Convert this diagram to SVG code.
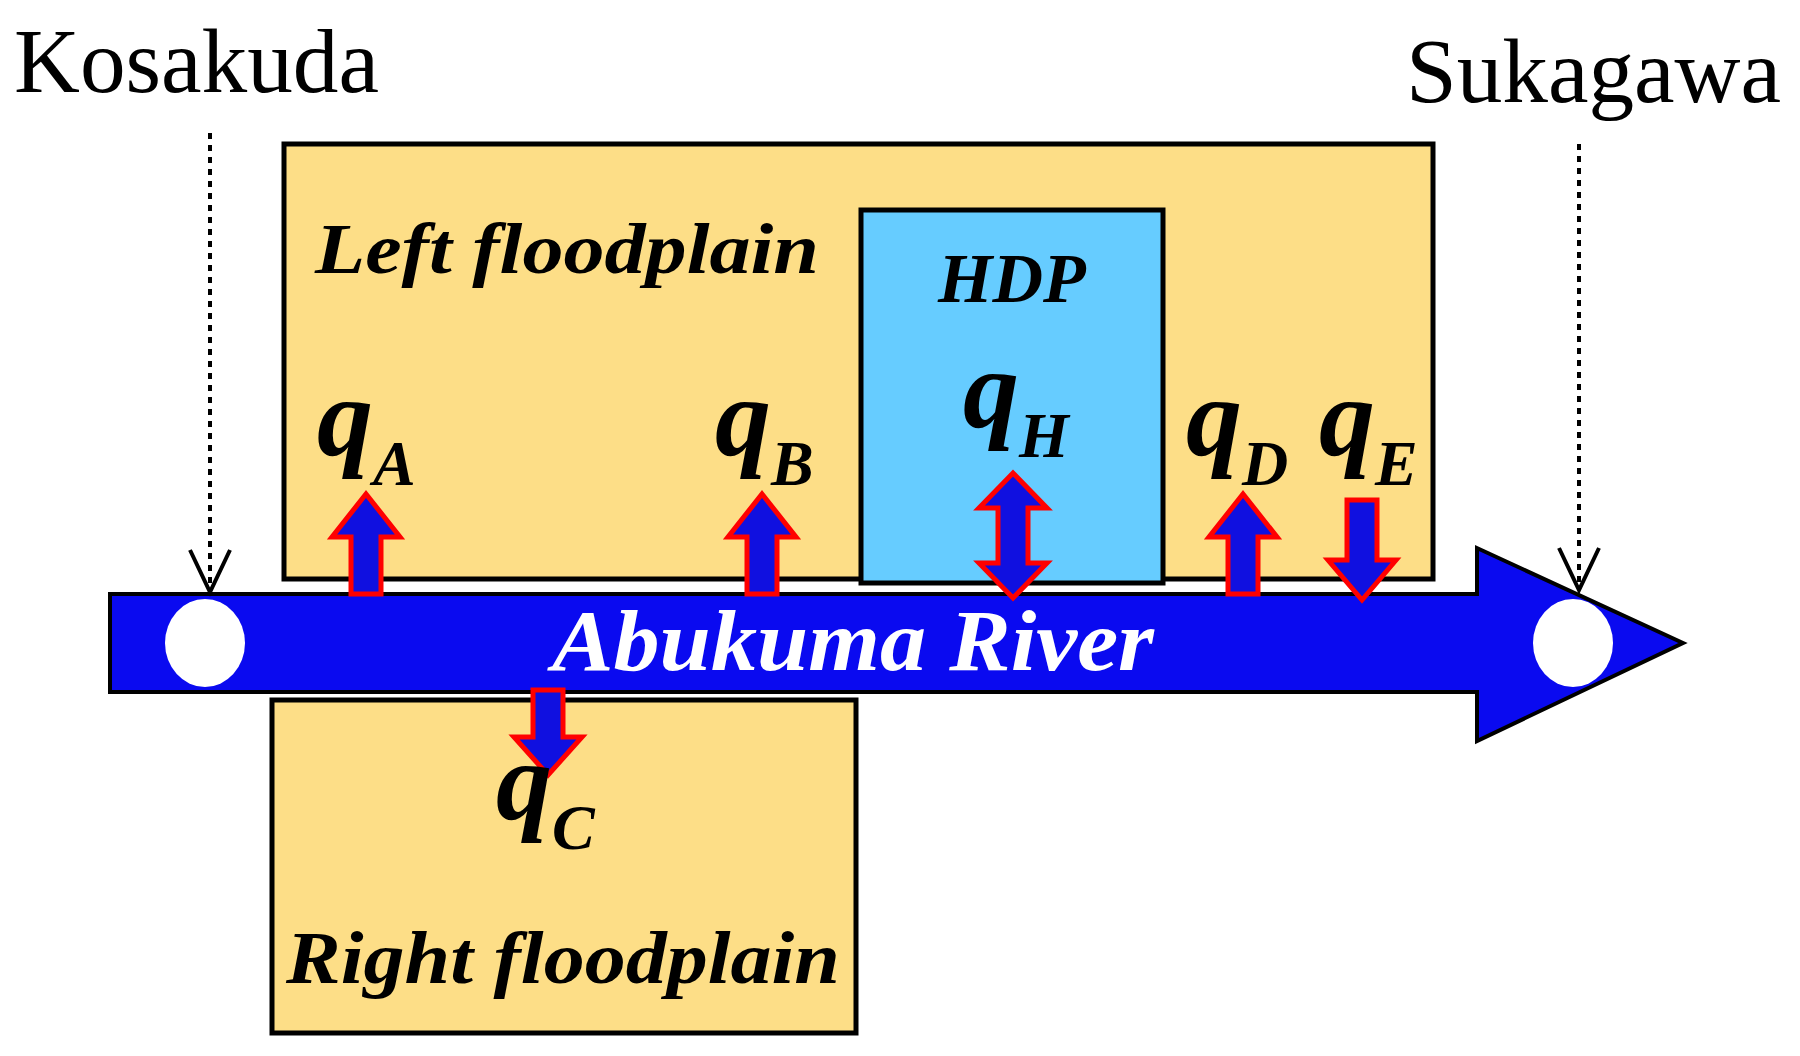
<svg xmlns="http://www.w3.org/2000/svg" width="1800" height="1056" viewBox="0 0 1800 1056">
<style>
.plain{fill:#FDDE87;stroke:#000;stroke-width:5}
.lbl{font-family:"Liberation Serif",serif;font-weight:bold;font-style:italic;fill:#000}
.q{font-family:"Liberation Serif",serif;font-weight:bold;font-style:italic;fill:#000}
.town{font-family:"Liberation Serif",serif;font-size:92px;fill:#000}
.fa{fill:#1010E0;stroke:#FF0000;stroke-width:5;stroke-linejoin:miter}
.dot{stroke:#000;stroke-width:4;stroke-dasharray:6,6;fill:none}
.chev{fill:none;stroke:#000;stroke-width:4}
</style>
<rect width="1800" height="1056" fill="#fff"/>
<g id="left-floodplain"><rect class="plain" x="284" y="144" width="1149" height="435"/>
<text class="lbl" x="315" y="273" font-size="72" textLength="504" lengthAdjust="spacingAndGlyphs">Left floodplain</text></g>
<g id="hdp"><rect x="861" y="210" width="302" height="373" fill="#66CCFF" stroke="#000" stroke-width="5"/>
<text class="lbl" x="1012" y="302" font-size="70" text-anchor="middle">HDP</text></g>
<g id="right-floodplain"><rect class="plain" x="272" y="700" width="584" height="333"/>
<text class="lbl" x="286" y="983" font-size="74" textLength="554" lengthAdjust="spacingAndGlyphs">Right floodplain</text></g>
<g id="river"><path d="M110,594 H1477 V548 L1683,643 L1477,741 V692 H110 Z" fill="#0A0AF0" stroke="#000" stroke-width="4"/>
<ellipse cx="205" cy="643" rx="40" ry="44" fill="#fff"/>
<ellipse cx="1573" cy="643" rx="40" ry="44" fill="#fff"/>
<text x="552" y="670" font-family="Liberation Serif,serif" font-weight="bold" font-style="italic" font-size="86" fill="#fff" textLength="602" lengthAdjust="spacingAndGlyphs">Abukuma River</text></g>
<g id="kosakuda"><text class="town" x="14" y="92" textLength="365" lengthAdjust="spacingAndGlyphs">Kosakuda</text></g>
<g id="sukagawa"><text class="town" x="1406" y="102" textLength="375" lengthAdjust="spacingAndGlyphs">Sukagawa</text></g>
<g id="connectors">
<line class="dot" x1="210" y1="133" x2="210" y2="590"/>
<path class="chev" d="M190,550 L210,592 L230,550"/>
<line class="dot" x1="1579" y1="144" x2="1579" y2="588"/>
<path class="chev" d="M1559,548 L1579,590 L1599,548"/>
<path class="fa" d="M351,594 V537 H332 L366,494 L400,537 H381 V594 Z"/>
<path class="fa" d="M747,594 V537 H728 L762,494 L796,537 H777 V594 Z"/>
<path class="fa" d="M1228,594 V537 H1209 L1243,494 L1277,537 H1258 V594 Z"/>
<path class="fa" d="M998,508 H979 L1013,473 L1047,508 H1028 V563 H1047 L1013,598 L979,563 H998 Z"/>
<path class="fa" d="M1347,500 H1377 V560 H1396 L1362,600 L1328,560 H1347 Z"/>
<path class="fa" d="M533,690 H563 V737 H582 L548,775 L514,737 H533 Z"/>
</g>
<g id="q-labels">
<text class="q" x="317" y="455" font-size="112">q<tspan font-size="64" dy="30">A</tspan></text>
<text class="q" x="715" y="455" font-size="112">q<tspan font-size="64" dy="30">B</tspan></text>
<text class="q" x="963" y="427" font-size="112">q<tspan font-size="64" dy="30">H</tspan></text>
<text class="q" x="1186" y="455" font-size="112">q<tspan font-size="64" dy="30">D</tspan></text>
<text class="q" x="1319" y="455" font-size="112">q<tspan font-size="64" dy="30">E</tspan></text>
<text class="q" x="496" y="819" font-size="112">q<tspan font-size="64" dy="30">C</tspan></text>
</g>
</svg>
